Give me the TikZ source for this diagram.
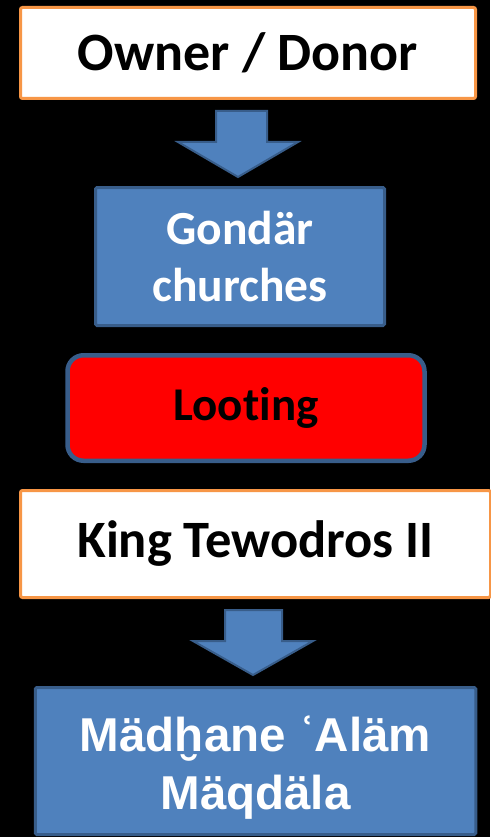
\documentclass[tikz,border=0pt]{standalone}
\usepackage{fontspec}
\setmainfont{Carlito}[Ligatures=NoCommon]
\newfontfamily\arialfont{Liberation Sans}
\definecolor{orangec}{HTML}{F79646}
\definecolor{bluef}{HTML}{4F81BD}
\definecolor{blueb}{HTML}{385D8A}
\begin{document}
\begin{tikzpicture}[x=1pt,y=-1pt,
  orangebox/.style={draw=orangec, line width=3pt, fill=white, rounded corners=2pt, inner sep=0pt, align=center},
  bluebox/.style={draw=blueb, line width=3pt, fill=bluef, rounded corners=1.5pt, inner sep=0pt, align=center, text=white},
  lootbox/.style={draw=blueb, line width=4.5pt, fill=red, rounded corners=16pt, inner sep=0pt, align=center},
  blockarrow/.style={draw=blueb, line width=2pt, fill=bluef, line join=miter}
]
\fill[black] (0,0) rectangle (490,837);
\useasboundingbox (0,0) rectangle (490,837);

\node[orangebox, minimum width=455pt, minimum height=91pt, font=\bfseries\fontsize{54}{64}\selectfont] (owner) at (248,53) {Owner / Donor};

\draw[blockarrow] (216,111) -- (267,111) -- (267,142) -- (298,142) -- (238,177) -- (178,142) -- (216,142) -- cycle;

\node[bluebox, minimum width=289pt, minimum height=138pt, font=\bfseries\fontsize{47.5}{57}\selectfont] (gondar) at (240,256.5) {Gondär\\churches};

\node[lootbox, minimum width=357pt, minimum height=105.5pt, font=\bfseries\fontsize{47}{57}\selectfont] (looting) at (246,408) {Looting};

\node[orangebox, minimum width=470pt, minimum height=107pt, font=\bfseries\fontsize{52.5}{63}\selectfont] (king) at (255.5,544) {King Tewodros II};

\draw[blockarrow] (225,610) -- (282,610) -- (282,641) -- (313,641) -- (253,675) -- (193,641) -- (225,641) -- cycle;

\node[bluebox, minimum width=440.5pt, minimum height=147pt] (magdala) at (255.5,761) {};
\node[align=center, text=white, inner sep=0pt, font=\arialfont\bfseries\fontsize{47.5}{58}\selectfont] (magdalatext) at (255.5,768) {Mädḫane ʿAläm\\Mäqdäla};
\end{tikzpicture}
\end{document}
